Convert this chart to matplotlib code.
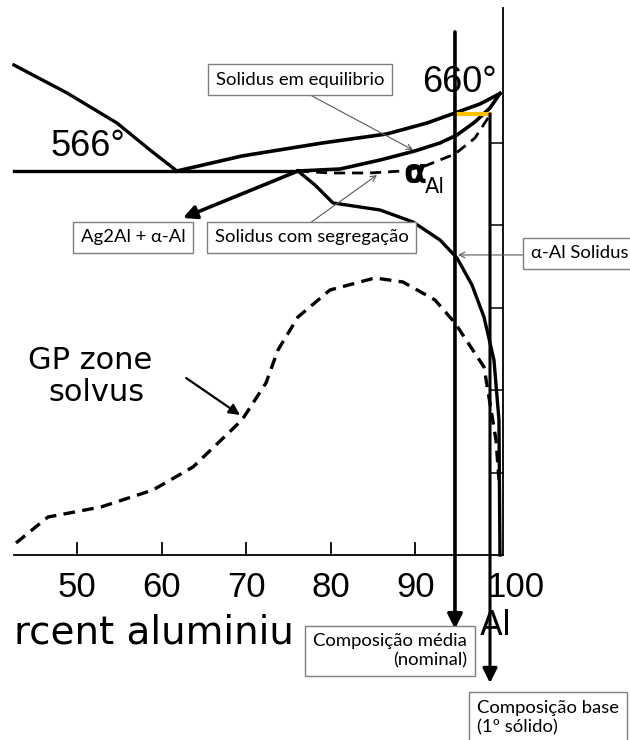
import matplotlib.pyplot as plt

# liquidus / solidus curves (wt% Al, deg C)
liq_left_x = [42.55, 48.82, 54.73, 58.63, 61.82]
liq_left_t = [694.6, 660.7, 624.2, 591.5, 566.0]

liq_right_x = [61.82, 69.50, 79.01, 86.60, 91.37, 94.68, 97.63, 100.0]
liq_right_t = [566.0, 584.2, 600.0, 610.9, 624.2, 636.4, 647.3, 660.0]

sol_x = [76.12, 81.09, 85.82, 89.95, 92.91, 94.92, 97.04, 98.82, 100.0]
sol_t = [566.0, 568.4, 579.3, 590.3, 600.0, 609.7, 625.5, 642.5, 660.0]

seg_x = [76.12, 79.91, 84.63, 88.53, 91.13, 94.68, 97.04, 98.82]
seg_t = [566.0, 563.6, 563.6, 566.0, 572.1, 586.6, 606.0, 634.0]

solvus_x = [76.12, 78.13, 80.26, 85.82, 89.72, 92.91, 94.92, 96.69, 98.11, 99.29, 99.88, 100.0]
solvus_t = [566.0, 549.0, 527.2, 518.7, 504.1, 482.3, 460.4, 427.7, 388.8, 336.6, 263.8, 100.0]

gp_x = [42.79, 46.57, 52.84, 58.98, 63.71, 69.50, 72.34, 73.76, 76.12, 79.91, 85.22,
        88.53, 92.32, 94.68, 98.11, 99.53, 99.88]
gp_t = [114.6, 146.1, 158.3, 178.9, 206.8, 263.8, 308.7, 348.8, 388.8, 421.6, 436.2,
        431.3, 409.5, 381.6, 328.2, 239.6, 191.0]

eutectic_t = 566
eutectic_x = [42.55, 76.12]
x_ticks = [50, 60, 70, 80, 90]
t_ticks = [600, 500, 400, 300, 200]
t_base = 100

nominal_x = 94.68
base_x = 98.82
base_t = 635.2

fig = plt.figure(figsize=(6.3, 7.4), dpi=100)
ax = fig.add_axes([0, 0, 1, 1])
ax.set_xlim(40.9, 115.37)
ax.set_ylim(-124.5, 773.5)
ax.axis('off')

k = 'black'
ax.plot(liq_left_x, liq_left_t, color=k, lw=2.4)
ax.plot(liq_right_x, liq_right_t, color=k, lw=2.6)
ax.plot(sol_x, sol_t, color=k, lw=2.6)
ax.plot(eutectic_x, [eutectic_t, eutectic_t], color=k, lw=2.4)
ax.plot(seg_x, seg_t, color=k, lw=2.0, ls=(0, (4, 2.5)))
ax.plot(solvus_x, solvus_t, color=k, lw=2.4)
ax.plot(gp_x, gp_t, color=k, lw=2.4, ls=(0, (3.5, 2.2)))

# frame of the scanned diagram
ax.plot([42.55, 100.3], [t_base, t_base], color=k, lw=1.3)
ax.plot([100.3, 100.3], [t_base, 763.8], color=k, lw=1.3)
for xt in x_ticks:
    ax.plot([xt, xt], [t_base, t_base + 14], color=k, lw=1.3)
    ax.text(xt, 60, str(xt), ha='center', va='center', fontsize=25, family='Liberation Sans')
ax.text(101.77, 60, '100', ha='center', va='center', fontsize=25, family='Liberation Sans')
for tt in t_ticks:
    ax.plot([98.9, 100.3], [tt, tt], color=k, lw=1.1)

ax.text(42.55, 5.4, 'rcent aluminiu', ha='left', va='center', fontsize=28)
ax.text(99.53, 13.9, 'Al', ha='center', va='center', fontsize=24)

ax.text(51.3, 596, '566°', ha='center', va='center', fontsize=26, family='Liberation Sans')
ax.text(95.2, 673, '660°', ha='center', va='center', fontsize=26, family='Liberation Sans')
ax.text(89.9, 563, 'α', ha='center', va='center', fontsize=24, fontweight='bold')
ax.text(92.3, 546, 'Al', ha='center', va='center', fontsize=15)

ax.text(51.5, 336, 'GP zone', ha='center', va='center', fontsize=22)
ax.text(52.3, 297, 'solvus', ha='center', va='center', fontsize=22)
ax.annotate('', xy=(69.27, 269.9), xytext=(62.9, 314.8),
            arrowprops=dict(arrowstyle='-|>', color=k, lw=1.6, mutation_scale=16,
                            shrinkA=0, shrinkB=0))

# annotations
box = dict(boxstyle='square,pad=0.42', fc='white', ec='#7f7f7f', lw=1)
tfont = ['Lato', 'DejaVu Sans']
tsize = 13.3
gray = '#595959'

ax.plot([base_x - 3.9, base_x], [base_t, base_t], color='#FFC000', lw=3)

ax.annotate('', xy=(nominal_x, 10.2), xytext=(nominal_x, 734.7),
            arrowprops=dict(arrowstyle='-|>', color=k, lw=2.6, mutation_scale=22,
                            shrinkA=0, shrinkB=0), zorder=5)
ax.annotate('', xy=(base_x, -55.3), xytext=(base_x, base_t),
            arrowprops=dict(arrowstyle='-|>', color=k, lw=2.2, mutation_scale=22,
                            shrinkA=0, shrinkB=0), zorder=5)
ax.annotate('', xy=(62.53, 509.0), xytext=(76.12, 566),
            arrowprops=dict(arrowstyle='-|>', color=k, lw=2.6, mutation_scale=20,
                            shrinkA=0, shrinkB=0))

ax.annotate('', xy=(89.72, 591.5), xytext=(77.78, 657.0),
            arrowprops=dict(arrowstyle='->', color=gray, lw=0.8, mutation_scale=10,
                            shrinkA=0, shrinkB=0))
ax.annotate('', xy=(85.46, 561.1), xytext=(77.54, 502.9),
            arrowprops=dict(arrowstyle='->', color=gray, lw=0.8, mutation_scale=10,
                            shrinkA=0, shrinkB=0))
ax.annotate('', xy=(95.04, 464.1), xytext=(102.95, 464.1),
            arrowprops=dict(arrowstyle='->', color=gray, lw=0.8, mutation_scale=10,
                            shrinkA=0, shrinkB=0))

ax.text(76.36, 677.0, 'Solidus em equilibrio', ha='center', va='center',
        fontsize=tsize, family=tfont, bbox=box, zorder=6)
ax.text(56.62, 485.3, 'Ag2Al + α-Al', ha='center', va='center',
        fontsize=tsize, family=tfont, bbox=box, zorder=6)
ax.text(77.72, 485.3, 'Solidus com segregação', ha='center', va='center',
        fontsize=tsize, family=tfont, bbox=box, zorder=6)
ax.text(103.66, 465.9, 'α-Al Solidus', ha='left', va='center',
        fontsize=tsize, family=tfont, bbox=box, zorder=6)
ax.text(96.1, -16.5, 'Composição média\n(nominal)', ha='right', va='center',
        multialignment='right', fontsize=tsize, family=tfont, bbox=box, zorder=6,
        linespacing=1.25)
ax.text(97.28, -97.5, 'Composição base\n(1º sólido)', ha='left', va='center',
        multialignment='left', fontsize=tsize, family=tfont, bbox=box, zorder=6,
        linespacing=1.25)

fig.savefig('out.png', dpi=100)
